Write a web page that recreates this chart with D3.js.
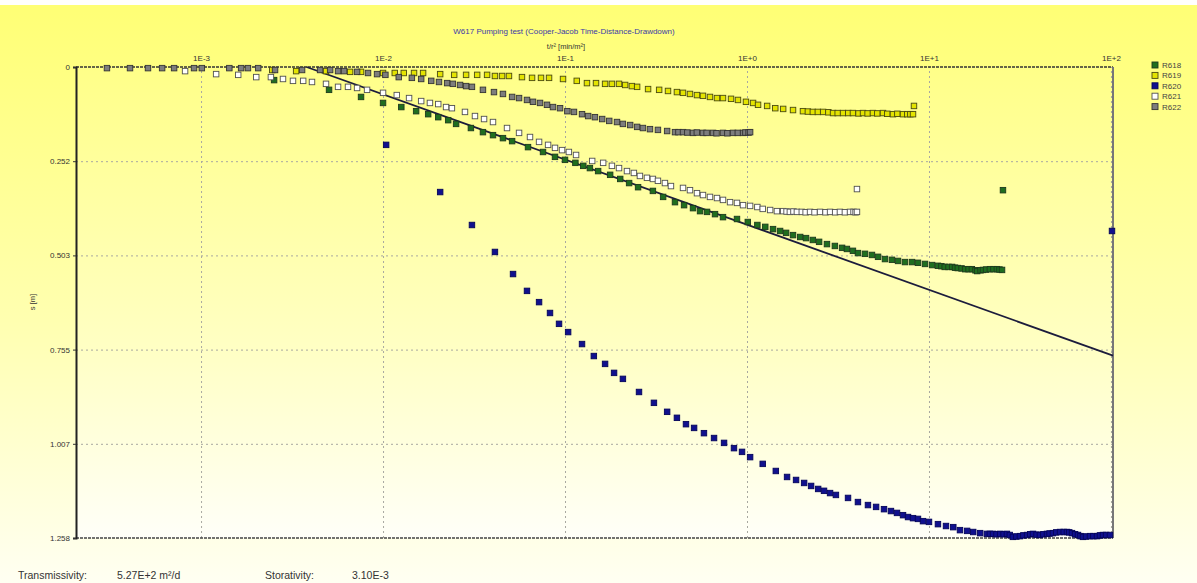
<!DOCTYPE html>
<html><head><meta charset="utf-8">
<script src="https://cdn.jsdelivr.net/npm/d3@7"></script>
<style>
body{margin:0;background:#fff}
svg{display:block;font-family:"Liberation Sans",Arial,sans-serif}
</style>
</head><body>
<svg id="c" width="1197" height="583"></svg>
<script>
const chartTitle = "W617 Pumping test (Cooper-Jacob Time-Distance-Drawdown)";
const xAxisTitle = "t/r² [min/m²]";
const yAxisTitle = "s [m]";
const seriesNames = ["R618","R619","R620","R621","R622"];
const xTickValues = [1e-3,1e-2,1e-1,1,10,100];
const xTickLabels = ["1E-3","1E-2","1E-1","1E+0","1E+1","1E+2"];
const yTickValues = [0,0.2516,0.5032,0.7548,1.0064,1.258];
const yTickLabels = ["0","0.252","0.503","0.755","1.007","1.258"];
const resultLabels = ["Transmissivity:","5.27E+2 m²/d","Storativity:","3.10E-3"];

// [t/r² (min/m²), s (m)]
const r618 = [[2.52e-3,0.035],[5.05e-3,0.061],[7.57e-3,0.080],[1.00e-2,0.096],[1.26e-2,0.107],
[1.52e-2,0.118],[1.77e-2,0.126],[2.01e-2,0.134],[2.28e-2,0.142],[2.52e-2,0.152],
[3.04e-2,0.163],[3.54e-2,0.174],[4.02e-2,0.182],[4.56e-2,0.190],[5.12e-2,0.198],
[6.26e-2,0.214],[7.57e-2,0.227],[8.81e-2,0.240],[0.100,0.248],[0.114,0.256],
[0.126,0.264],[0.137,0.270],[0.152,0.278],[0.177,0.288],[0.201,0.299],
[0.225,0.310],[0.252,0.321],[0.304,0.331],[0.346,0.347],[0.402,0.361],
[0.451,0.369],[0.505,0.377],[0.552,0.385],[0.603,0.387],[0.667,0.393],
[0.738,0.401],[0.881,0.406],[1.01,0.414],[1.14,0.422],[1.26,0.427],
[1.39,0.433],[1.52,0.438],[1.64,0.443],[1.79,0.449],[1.96,0.454],
[2.11,0.457],[2.30,0.462],[2.49,0.467],[2.75,0.473],[3.04,0.478],
[3.33,0.483],[3.54,0.486],[3.82,0.491],[4.07,0.497],[4.45,0.499],
[4.86,0.502],[5.25,0.507],[5.73,0.513],[6.26,0.515],[6.76,0.518],
[7.38,0.521],[8.07,0.521],[8.70,0.523],[9.51,0.526],[10.4,0.529],
[11.2,0.531],[11.7,0.532],[12.2,0.534],[12.8,0.534],[13.4,0.534],[13.9,0.536],
[14.4,0.537],[15.1,0.538],[15.8,0.540],[16.5,0.540],[17.2,0.540],[18.0,0.543],
[18.4,0.545],[19.2,0.543],[19.8,0.542],[20.6,0.541],[21.6,0.540],[22.6,0.540],
[23.6,0.540],[24.4,0.541],[25.2,0.542],[25.5,0.329]];

const r619 = [[2.46e-3,0.008],[3.33e-3,0.011],[4.86e-3,0.011],[6.59e-3,0.013],[7.57e-3,0.013],
[1.00e-2,0.016],[1.16e-2,0.016],[1.30e-2,0.016],[1.48e-2,0.016],[1.66e-2,0.016],
[2.06e-2,0.019],[2.46e-2,0.021],[2.86e-2,0.021],[3.29e-2,0.021],[3.73e-2,0.021],
[4.12e-2,0.024],[4.51e-2,0.024],[4.92e-2,0.024],[5.80e-2,0.027],[6.59e-2,0.029],
[7.38e-2,0.029],[8.17e-2,0.029],[9.75e-2,0.032],[0.116,0.037],[0.132,0.043],
[0.148,0.043],[0.166,0.045],[0.181,0.045],[0.198,0.045],[0.214,0.048],
[0.233,0.051],[0.249,0.053],[0.286,0.059],[0.329,0.061],[0.368,0.064],
[0.412,0.067],[0.445,0.069],[0.486,0.072],[0.531,0.075],[0.573,0.077],
[0.626,0.080],[0.684,0.083],[0.738,0.083],[0.817,0.085],[0.892,0.088],
[0.987,0.093],[1.08,0.096],[1.15,0.101],[1.29,0.104],[1.43,0.110],
[1.58,0.112],[1.79,0.115],[2.03,0.118],[2.16,0.119],[2.30,0.120],[2.45,0.120],
[2.62,0.120],[2.80,0.121],[2.97,0.123],[3.15,0.123],[3.37,0.123],[3.60,0.123],
[3.82,0.123],[4.10,0.124],[4.34,0.123],[4.60,0.124],[4.92,0.123],[5.20,0.124],
[5.59,0.123],[5.90,0.125],[6.34,0.126],[6.70,0.125],[7.20,0.126],[7.60,0.126],
[7.90,0.126],[8.17,0.126],[8.27,0.104]];

const r620 = [[1.04e-2,0.208],[2.06e-2,0.334],[3.08e-2,0.422],[4.12e-2,0.494],[5.18e-2,0.553],
[6.18e-2,0.598],[7.20e-2,0.628],[8.27e-2,0.657],[9.27e-2,0.686],[0.104,0.708],
[0.124,0.740],[0.144,0.772],[0.166,0.793],[0.186,0.817],[0.208,0.833],
[0.255,0.868],[0.308,0.897],[0.364,0.921],[0.412,0.937],[0.462,0.954],
[0.512,0.964],[0.580,0.978],[0.659,0.991],[0.748,1.004],[0.848,1.018],
[0.939,1.028],[1.04,1.042],[1.22,1.060],[1.44,1.079],[1.66,1.095],
[1.86,1.103],[2.06,1.111],[2.25,1.119],[2.46,1.127],[2.65,1.132],
[2.86,1.138],[3.08,1.143],[3.59,1.151],[4.07,1.162],[4.62,1.170],
[5.12,1.175],[5.66,1.181],[6.18,1.186],[6.67,1.191],[7.20,1.197],
[7.67,1.202],[8.17,1.205],[8.70,1.207],[9.27,1.213],[10.0,1.215],
[11.2,1.221],[12.4,1.226],[13.6,1.229],[14.8,1.237],[16.2,1.239],
[17.5,1.242],[19.1,1.245],[20.8,1.247],[21.6,1.247],[22.5,1.247],[23.5,1.248],
[24.6,1.247],[25.7,1.248],[26.8,1.247],[27.8,1.250],[28.9,1.255],[30.2,1.254],
[31.6,1.253],[33.0,1.251],[34.6,1.250],[36.0,1.248],[37.3,1.247],[39.0,1.249],
[40.7,1.250],[42.5,1.248],[44.5,1.247],[46.0,1.246],[48.0,1.245],[50.0,1.243],
[52.5,1.242],[55.0,1.242],[57.3,1.242],[59.0,1.243],[61.1,1.245],[63.5,1.248],
[65.9,1.250],[68.0,1.253],[70.2,1.255],[73.0,1.254],[76.7,1.253],[80.0,1.253],
[83.8,1.253],[87.0,1.251],[90.4,1.250],[94.0,1.250],[98.7,1.250],[101.3,0.438]];

const r621 = [[8.17e-4,0.011],[1.21e-3,0.019],[1.60e-3,0.021],[2.01e-3,0.027],[2.42e-3,0.027],
[2.82e-3,0.032],[3.20e-3,0.037],[3.64e-3,0.037],[4.07e-3,0.040],[4.86e-3,0.045],
[5.66e-3,0.053],[6.42e-3,0.053],[7.20e-3,0.056],[8.17e-3,0.061],[1.00e-2,0.069],
[1.19e-2,0.075],[1.39e-2,0.083],[1.62e-2,0.091],[1.81e-2,0.096],[2.01e-2,0.099],
[2.22e-2,0.107],[2.39e-2,0.110],[2.82e-2,0.120],[3.20e-2,0.131],[3.59e-2,0.139],
[4.02e-2,0.147],[4.80e-2,0.163],[5.59e-2,0.176],[6.42e-2,0.187],[7.20e-2,0.200],
[8.07e-2,0.208],[8.81e-2,0.216],[9.63e-2,0.222],[0.105,0.227],[0.115,0.235],
[0.141,0.251],[0.162,0.256],[0.181,0.264],[0.198,0.270],[0.219,0.278],
[0.239,0.283],[0.258,0.291],[0.282,0.296],[0.304,0.299],[0.324,0.304],
[0.354,0.310],[0.382,0.318],[0.445,0.323],[0.486,0.329],[0.531,0.337],
[0.573,0.342],[0.626,0.347],[0.684,0.350],[0.738,0.355],[0.807,0.361],
[0.881,0.363],[0.951,0.369],[1.04,0.371],[1.14,0.374],[1.22,0.379],
[1.34,0.382],[1.46,0.385],[1.58,0.385],[1.65,0.386],[1.72,0.387],[1.80,0.386],
[1.88,0.387],[2.00,0.387],[2.10,0.388],[2.22,0.387],[2.35,0.388],[2.52,0.387],
[2.70,0.388],[2.86,0.387],[3.05,0.388],[3.24,0.387],[3.45,0.388],[3.68,0.387],
[3.85,0.387],[3.95,0.388],[4.02,0.387],[4.02,0.326]];

const r622 = [[3.04e-4,0.003],[4.07e-4,0.003],[5.11e-4,0.003],[6.11e-4,0.003],[7.11e-4,0.003],
[9.15e-4,0.003],[1.01e-3,0.003],[1.43e-3,0.003],[1.66e-3,0.003],[1.81e-3,0.003],
[2.06e-3,0.003],[2.55e-3,0.008],[3.59e-3,0.008],[4.51e-3,0.008],[5.12e-3,0.008],
[5.66e-3,0.011],[6.11e-3,0.011],[7.20e-3,0.013],[8.27e-3,0.016],[9.27e-3,0.019],
[1.03e-2,0.021],[1.22e-2,0.027],[1.44e-2,0.029],[1.62e-2,0.032],[1.84e-2,0.037],
[2.03e-2,0.040],[2.25e-2,0.043],[2.42e-2,0.045],[2.65e-2,0.048],[2.86e-2,0.051],
[3.08e-2,0.053],[3.54e-2,0.061],[4.07e-2,0.067],[4.56e-2,0.072],[5.12e-2,0.080],
[5.59e-2,0.083],[6.18e-2,0.088],[6.67e-2,0.093],[7.29e-2,0.096],[7.96e-2,0.101],
[8.59e-2,0.107],[9.39e-2,0.110],[0.103,0.118],[0.112,0.120],[0.124,0.126],
[0.134,0.131],[0.146,0.134],[0.160,0.139],[0.175,0.144],[0.193,0.147],
[0.208,0.152],[0.228,0.155],[0.249,0.160],[0.268,0.163],[0.293,0.166],
[0.324,0.168],[0.364,0.171],[0.402,0.174],[0.420,0.174],[0.445,0.174],[0.470,0.175],
[0.505,0.176],[0.530,0.175],[0.573,0.176],[0.600,0.176],[0.651,0.176],[0.680,0.177],
[0.738,0.176],[0.780,0.177],[0.838,0.176],[0.890,0.176],[0.951,0.176],[0.980,0.175],
[1.02,0.175],[1.04,0.174]];

// Cooper-Jacob straight-line fit
const fitLine = [[3.8e-3,0],[102.6,0.771]];

const seriesData = [r618, r619, r620, r621, r622];
const seriesFill = ["#1f6e1f","#e4e400","#10108e","#ffffff","#7d7d7d"];
const seriesStroke = ["#1d3a1d","#4a4a10","#05055a","#505050","#333333"];

const W = 1197, H = 583;
const m = {l:76, r:84, t:67, b:45};
const pw = W - m.l - m.r, ph = H - m.t - m.b;
const svg = d3.select("#c");
const defs = svg.append("defs");
const g1 = defs.append("linearGradient").attr("id","bg").attr("x1",0).attr("y1",0).attr("x2",0).attr("y2",1);
g1.append("stop").attr("offset","0%").attr("stop-color","#ffff74");
g1.append("stop").attr("offset","55%").attr("stop-color","#ffffb0");
g1.append("stop").attr("offset","100%").attr("stop-color","#fffff2");
const g2 = defs.append("linearGradient").attr("id","pbg").attr("x1",0).attr("y1",0).attr("x2",0).attr("y2",1);
g2.append("stop").attr("offset","0%").attr("stop-color","#ffff88");
g2.append("stop").attr("offset","60%").attr("stop-color","#ffffc4");
g2.append("stop").attr("offset","100%").attr("stop-color","#fffff8");

svg.append("rect").attr("width",W).attr("height",H).attr("fill","url(#bg)");
svg.append("rect").attr("width",W).attr("height",5).attr("fill","#ffffff");
svg.append("rect").attr("x",m.l).attr("y",m.t).attr("width",pw).attr("height",ph).attr("fill","url(#pbg)");

const x = d3.scaleLog().domain([2.055e-4, 102.6]).range([m.l, m.l+pw]);
const y = d3.scaleLinear().domain([0, 1.258]).range([m.t, m.t+ph]);

// grid
const gx = svg.append("g").attr("transform",`translate(0,${m.t+ph})`)
  .call(d3.axisBottom(x).tickValues(xTickValues).tickSize(-ph).tickFormat(""));
gx.select(".domain").remove();
gx.selectAll("line").attr("stroke","#a8a8a0").attr("stroke-dasharray","2,3").attr("stroke-width",1);
const gy = svg.append("g").attr("transform",`translate(${m.l},0)`)
  .call(d3.axisLeft(y).tickValues(yTickValues.slice(1,5)).tickSize(-pw).tickFormat(""));
gy.select(".domain").remove();
gy.selectAll("line").attr("stroke","#a8a8a0").attr("stroke-dasharray","2,3").attr("stroke-width",1);

// borders
svg.append("line").attr("x1",m.l).attr("x2",m.l+pw).attr("y1",m.t).attr("y2",m.t)
  .attr("stroke","#333").attr("stroke-width",1.5).attr("stroke-dasharray","3,1");
svg.append("line").attr("x1",m.l).attr("x2",m.l+pw).attr("y1",m.t+ph).attr("y2",m.t+ph)
  .attr("stroke","#444").attr("stroke-width",1.5).attr("stroke-dasharray","3,1");
svg.append("line").attr("x1",m.l+pw).attr("x2",m.l+pw).attr("y1",m.t).attr("y2",m.t+ph)
  .attr("stroke","#777").attr("stroke-width",2);

// x axis labels (top)
const ax = svg.append("g").attr("transform",`translate(0,${m.t})`)
  .call(d3.axisTop(x).tickValues(xTickValues).tickSize(0).tickPadding(6).tickFormat((d,i)=>xTickLabels[i]));
ax.select(".domain").remove();
ax.selectAll("text").attr("font-size",8).attr("fill","#333").attr("font-family","Liberation Sans, Arial, sans-serif");

// y axis
const ay = svg.append("g").attr("transform",`translate(${m.l},0)`)
  .call(d3.axisLeft(y).tickValues(yTickValues).tickSize(3).tickPadding(3).tickFormat((d,i)=>yTickLabels[i]));
ay.select(".domain").attr("stroke","#222").attr("stroke-width",2);
ay.selectAll("line").attr("stroke","#333");
ay.selectAll("text").attr("font-size",8).attr("fill","#333").attr("font-family","Liberation Sans, Arial, sans-serif");

// titles
svg.append("text").attr("x",564).attr("y",34).attr("text-anchor","middle")
  .attr("font-size",8).attr("fill","#3a3aa8").text(chartTitle);
svg.append("text").attr("x",566).attr("y",49).attr("text-anchor","middle")
  .attr("font-size",7.5).attr("fill","#333").text(xAxisTitle);
svg.append("text").attr("transform","translate(35,302) rotate(-90)").attr("text-anchor","middle")
  .attr("font-size",7.5).attr("fill","#333").text(yAxisTitle);

// fit line
const line = d3.line().x(d=>x(d[0])).y(d=>y(d[1]));
svg.append("path").datum(fitLine).attr("d",line).attr("fill","none")
  .attr("stroke","#1c1c3c").attr("stroke-width",1.8);

// points
const ms = 5.5;
seriesData.forEach((data,i)=>{
  svg.append("g").selectAll("rect").data(data).join("rect")
    .attr("x",d=>x(d[0])-ms/2).attr("y",d=>y(d[1])-ms/2)
    .attr("width",ms).attr("height",ms)
    .attr("fill",seriesFill[i]).attr("stroke",seriesStroke[i]).attr("stroke-width",0.9);
});

// legend
const lg = svg.append("g");
seriesNames.forEach((n,i)=>{
  const yy = 65 + i*10.4;
  lg.append("rect").attr("x",1152).attr("y",yy-3).attr("width",6).attr("height",6)
    .attr("fill",seriesFill[i]).attr("stroke",seriesStroke[i]).attr("stroke-width",0.9);
  lg.append("text").attr("x",1162).attr("y",yy+3).attr("font-size",8).attr("fill","#444").text(n);
});

// results
const rx = [18,117,265,352];
resultLabels.forEach((t,i)=>{
  svg.append("text").attr("x",rx[i]).attr("y",579).attr("font-size",10.5).attr("fill","#333").text(t);
});
</script>
</body></html>
